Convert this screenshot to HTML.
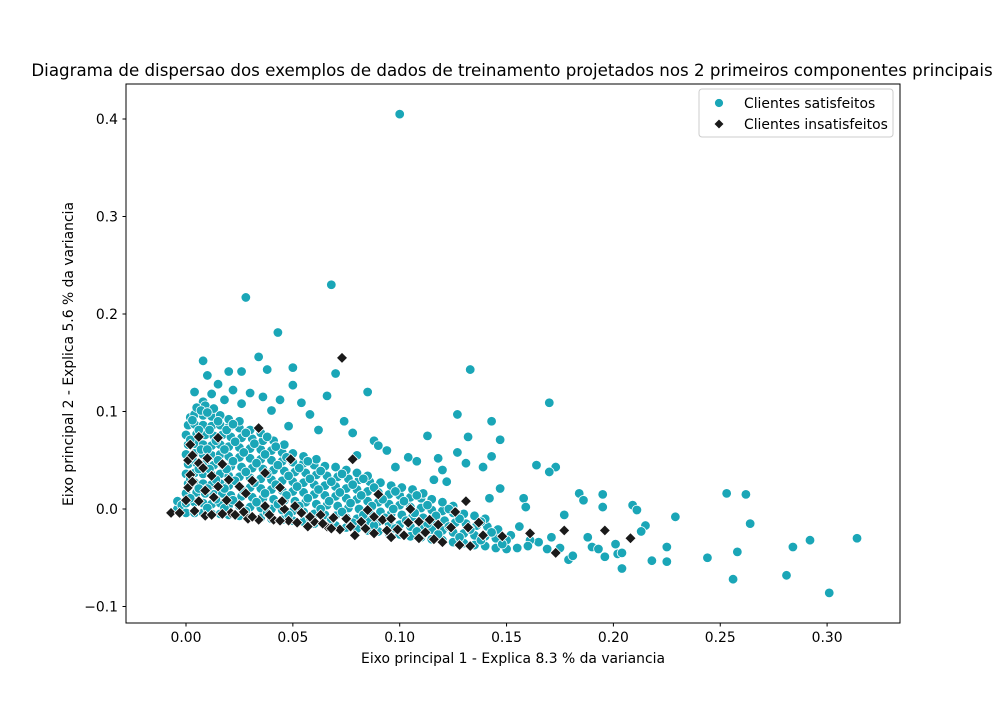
<!DOCTYPE html>
<html><head><meta charset="utf-8"><style>
body{margin:0;background:#fff;width:1000px;height:700px;overflow:hidden}
svg{font-family:"DejaVu Sans","Liberation Sans",sans-serif}
</style></head><body>
<svg id="chart" width="1000" height="700" viewBox="0 0 1000 700">
<text x="512" y="76" font-size="16.67" text-anchor="middle">Diagrama de dispersao dos exemplos de dados de treinamento projetados nos 2 primeiros componentes principais</text>
<g id="grid-axes"></g>
<g id="marks"></g>
<rect x="126" y="84" width="774" height="539" fill="none" stroke="#000" stroke-width="1"/>
<text x="513" y="663" font-size="13.9" text-anchor="middle">Eixo principal 1 - Explica 8.3 % da variancia</text>
<text transform="translate(73,354) rotate(-90)" font-size="13.9" text-anchor="middle">Eixo principal 2 - Explica 5.6 % da variancia</text>
<g>
<rect x="699" y="89" width="194" height="48" rx="3" fill="#fff" stroke="#ccc"/>
<circle cx="719" cy="103" r="4.5" fill="#1aa6b7" stroke="#fff" stroke-width="0.8"/>
<text x="744" y="108" font-size="13.9">Clientes satisfeitos</text>
<path d="M719,119 l5,5 l-5,5 l-5,-5z" fill="#1a1a1a" stroke="#fff" stroke-width="0.8"/>
<text x="744" y="129" font-size="13.9">Clientes insatisfeitos</text>
</g>
</svg>
<script>
const xTicks=[0,0.05,0.10,0.15,0.20,0.25,0.30];
const xTickLabels=["0.00","0.05","0.10","0.15","0.20","0.25","0.30"];
const yTicks=[-0.1,0,0.1,0.2,0.3,0.4];
const yTickLabels=["\u22120.1","0.0","0.1","0.2","0.3","0.4"];
const satisfiedPoints=[
[0.100,0.405],[0.028,0.217],[0.068,0.230],[0.043,0.181],[0.008,0.152],[0.034,0.156],[0.133,0.143],[0.050,0.145],[0.020,0.141],[0.026,0.141],[0.038,0.143],[0.070,0.139],[0.050,0.127],[0.085,0.120],[0.066,0.116],[0.170,0.109],[0.054,0.109],[0.074,0.090],[0.127,0.097],[0.143,0.090],[0.113,0.075],[0.132,0.074],[0.147,0.071],[0.088,0.070],[0.090,0.065],[0.127,0.058],[0.104,0.053],[0.164,0.045],[0.173,0.043],[0.139,0.043],[0.170,0.038],[0.143,0.054],[0.120,0.040],[0.131,0.047],[0.184,0.016],[0.195,0.015],[0.186,0.009],[0.195,0.002],[0.209,0.004],[0.211,-0.001],[0.229,-0.008],[0.253,0.016],[0.262,0.015],[0.264,-0.015],[0.215,-0.017],[0.213,-0.023],[0.177,-0.006],[0.188,-0.029],[0.190,-0.039],[0.193,-0.041],[0.196,-0.049],[0.201,-0.036],[0.202,-0.046],[0.204,-0.045],[0.204,-0.061],[0.218,-0.053],[0.225,-0.039],[0.225,-0.054],[0.244,-0.050],[0.258,-0.044],[0.256,-0.072],[0.281,-0.068],[0.284,-0.039],[0.292,-0.032],[0.314,-0.030],[0.301,-0.086],[0.179,-0.052],[0.181,-0.048],[0.175,-0.040],[0.169,-0.041],[0.165,-0.034],[0.156,-0.018],[0.158,0.011],[0.159,0.002],[0.147,0.021],[0.142,0.011],[0.146,-0.022],[0.152,-0.027],[0.161,-0.032],[0.171,-0.029],
[0.010,0.137],[0.015,0.128],[0.004,0.120],[0.012,0.118],[0.022,0.122],[0.030,0.119],[0.036,0.115],[0.018,0.112],[0.044,0.112],[0.008,0.110],[0.026,0.108],[0.040,0.101],[0.058,0.097],[0.062,0.081],[0.078,0.078],[0.048,0.085],[0.098,0.043],[0.108,0.049],[0.116,0.030],[0.122,0.028],[0.118,0.052],[0.094,0.060],[0.080,0.055],
[-0.004,0.000],[-0.004,0.008],[-0.002,0.004],
[0.000,-0.004],[0.000,0.006],[0.000,0.016],[0.001,0.026],[0.000,0.036],[0.001,0.046],[0.000,0.056],[0.001,0.066],[0.000,0.076],[0.001,0.086],[0.002,0.094],
[0.004,-0.004],[0.004,0.007],[0.005,0.017],[0.004,0.027],[0.004,0.037],[0.005,0.047],[0.004,0.057],[0.004,0.067],[0.005,0.077],[0.004,0.087],[0.004,0.097],[0.005,0.104],
[0.008,-0.004],[0.008,0.006],[0.009,0.016],[0.008,0.026],[0.008,0.036],[0.009,0.046],[0.008,0.056],[0.008,0.066],[0.009,0.076],[0.008,0.086],[0.008,0.096],[0.009,0.106],
[0.012,-0.005],[0.012,0.005],[0.013,0.015],[0.012,0.025],[0.012,0.035],[0.013,0.045],[0.012,0.055],[0.012,0.065],[0.013,0.075],[0.012,0.085],[0.012,0.095],[0.013,0.103],
[0.016,-0.005],[0.016,0.006],[0.017,0.016],[0.016,0.026],[0.016,0.036],[0.017,0.046],[0.016,0.056],[0.016,0.066],[0.017,0.076],[0.016,0.086],[0.016,0.096],
[0.020,-0.006],[0.020,0.004],[0.021,0.014],[0.020,0.024],[0.020,0.034],[0.021,0.044],[0.020,0.054],[0.020,0.064],[0.021,0.074],[0.020,0.084],[0.020,0.092],
[0.025,-0.007],[0.025,0.003],[0.026,0.013],[0.025,0.023],[0.025,0.033],[0.026,0.043],[0.025,0.053],[0.025,0.063],[0.026,0.073],[0.025,0.083],[0.025,0.090],
[0.030,-0.008],[0.030,0.002],[0.031,0.012],[0.030,0.022],[0.030,0.032],[0.031,0.042],[0.030,0.052],[0.030,0.062],[0.031,0.072],[0.030,0.081],
[0.035,-0.009],[0.035,0.001],[0.036,0.011],[0.035,0.021],[0.035,0.031],[0.036,0.041],[0.035,0.051],[0.035,0.061],[0.036,0.070],[0.035,0.078],
[0.040,-0.010],[0.040,0.000],[0.041,0.010],[0.040,0.020],[0.040,0.030],[0.041,0.040],[0.040,0.050],[0.040,0.060],[0.041,0.070],
[0.045,-0.011],[0.045,-0.001],[0.046,0.009],[0.045,0.019],[0.045,0.029],[0.046,0.039],[0.045,0.049],[0.045,0.058],[0.046,0.066],
[0.050,-0.012],[0.050,-0.002],[0.051,0.008],[0.050,0.018],[0.050,0.028],[0.051,0.038],[0.050,0.048],[0.050,0.057],
[0.055,-0.013],[0.055,-0.003],[0.056,0.007],[0.055,0.017],[0.055,0.027],[0.056,0.037],[0.055,0.047],[0.055,0.054],
[0.060,-0.015],[0.060,-0.005],[0.061,0.005],[0.060,0.015],[0.060,0.025],[0.061,0.035],[0.060,0.045],[0.061,0.051],
[0.065,-0.016],[0.065,-0.006],[0.066,0.004],[0.065,0.014],[0.065,0.024],[0.066,0.034],[0.065,0.044],
[0.070,-0.017],[0.070,-0.007],[0.071,0.003],[0.070,0.013],[0.070,0.023],[0.071,0.033],[0.070,0.043],
[0.075,-0.019],[0.075,-0.009],[0.076,0.001],[0.075,0.011],[0.075,0.021],[0.076,0.031],[0.075,0.040],
[0.080,-0.020],[0.080,-0.010],[0.081,0.000],[0.080,0.010],[0.080,0.020],[0.081,0.030],[0.080,0.037],
[0.085,-0.022],[0.085,-0.012],[0.086,-0.002],[0.085,0.008],[0.085,0.018],[0.086,0.028],[0.085,0.034],
[0.090,-0.023],[0.090,-0.013],[0.091,-0.003],[0.090,0.007],[0.090,0.017],[0.091,0.027],
[0.095,-0.025],[0.095,-0.015],[0.096,-0.005],[0.095,0.005],[0.095,0.015],[0.096,0.024],
[0.100,-0.026],[0.100,-0.016],[0.101,-0.006],[0.100,0.004],[0.100,0.014],[0.101,0.022],
[0.105,-0.028],[0.105,-0.018],[0.106,-0.008],[0.105,0.002],[0.105,0.012],[0.106,0.020],
[0.110,-0.029],[0.110,-0.019],[0.111,-0.009],[0.110,0.001],[0.110,0.011],[0.111,0.016],
[0.115,-0.031],[0.115,-0.021],[0.116,-0.011],[0.115,-0.001],[0.115,0.010],
[0.120,-0.032],[0.120,-0.022],[0.121,-0.012],[0.120,-0.002],[0.120,0.007],
[0.125,-0.034],[0.125,-0.024],[0.126,-0.014],[0.125,-0.004],[0.125,0.003],
[0.130,-0.035],[0.130,-0.025],[0.131,-0.015],[0.130,-0.005],
[0.135,-0.037],[0.135,-0.027],[0.136,-0.017],[0.135,-0.007],
[0.140,-0.038],[0.140,-0.028],[0.141,-0.018],[0.140,-0.010],
[0.145,-0.040],[0.145,-0.030],[0.146,-0.021],
[0.150,-0.041],[0.150,-0.032],[0.155,-0.040],[0.160,-0.038],
[0.002,0.011],[0.002,0.031],[0.003,0.051],[0.002,0.071],[0.003,0.091],[0.006,0.021],[0.006,0.041],[0.007,0.061],[0.006,0.081],[0.007,0.101],
[0.010,0.001],[0.010,0.021],[0.011,0.041],[0.010,0.061],[0.011,0.081],[0.010,0.099],[0.014,0.010],[0.014,0.030],[0.015,0.050],[0.014,0.070],[0.015,0.090],
[0.018,0.001],[0.018,0.021],[0.019,0.041],[0.018,0.061],[0.019,0.081],[0.022,0.009],[0.023,0.029],[0.022,0.049],[0.023,0.069],[0.022,0.087],
[0.028,-0.002],[0.027,0.018],[0.028,0.038],[0.027,0.058],[0.028,0.078],[0.033,0.007],[0.032,0.027],[0.033,0.047],[0.032,0.067],
[0.038,-0.004],[0.037,0.016],[0.038,0.036],[0.037,0.056],[0.038,0.074],[0.043,0.005],[0.042,0.025],[0.043,0.045],[0.042,0.064],
[0.048,-0.006],[0.047,0.014],[0.048,0.034],[0.047,0.053],[0.053,0.003],[0.052,0.023],[0.053,0.042],[0.058,-0.009],[0.057,0.011],[0.058,0.031],[0.057,0.049],
[0.063,0.000],[0.062,0.020],[0.063,0.039],[0.068,-0.011],[0.067,0.008],[0.068,0.028],[0.073,-0.003],[0.072,0.017],[0.073,0.036],
[0.078,-0.014],[0.077,0.006],[0.078,0.025],[0.083,-0.006],[0.082,0.014],[0.083,0.031],[0.088,-0.017],[0.087,0.003],[0.088,0.022],
[0.093,-0.009],[0.092,0.010],[0.098,-0.020],[0.097,0.000],[0.098,0.018],[0.103,-0.012],[0.102,0.008],[0.108,-0.023],[0.107,-0.004],[0.108,0.014],
[0.113,-0.015],[0.113,0.004],[0.118,-0.026],[0.117,-0.007],[0.123,-0.018],[0.123,0.000],[0.128,-0.029],[0.128,-0.010],[0.133,-0.021],[0.138,-0.032],[0.138,-0.013],[0.143,-0.024],[0.148,-0.036]
];
const unsatisfiedPoints=[
[-0.007,-0.004],[-0.003,-0.004],[0.000,0.009],[0.001,0.022],[0.002,0.035],[0.001,0.050],[0.003,0.055],[0.002,0.066],[0.006,0.074],[0.006,0.047],[0.008,0.042],[0.009,0.019],[0.009,-0.007],[0.012,0.034],[0.015,0.073],[0.017,0.046],[0.015,0.023],[0.019,0.009],[0.021,-0.004],[0.025,0.023],[0.028,0.016],[0.025,0.004],[0.029,-0.010],[0.031,0.029],[0.034,0.083],[0.037,0.037],[0.034,-0.011],[0.037,0.003],[0.041,-0.011],[0.044,0.022],[0.049,0.051],[0.048,-0.012],[0.051,0.003],[0.054,-0.004],[0.057,-0.018],[0.060,-0.013],[0.063,-0.006],[0.066,-0.018],[0.069,-0.009],[0.073,0.155],[0.072,-0.021],[0.075,-0.010],[0.079,-0.027],[0.078,0.051],[0.082,-0.013],[0.085,-0.001],[0.088,-0.025],[0.090,0.015],[0.092,-0.011],[0.096,-0.029],[0.099,-0.021],[0.105,0.000],[0.109,-0.013],[0.109,-0.030],[0.114,-0.011],[0.118,-0.016],[0.124,-0.019],[0.128,-0.037],[0.131,0.008],[0.132,-0.019],[0.133,-0.038],[0.137,-0.014],[0.139,-0.027],[0.148,-0.028],[0.161,-0.025],[0.173,-0.045],[0.177,-0.022],[0.196,-0.022],[0.208,-0.030],[0.126,-0.003],[0.120,-0.034],
[0.004,-0.002],[0.006,0.008],[0.012,-0.006],[0.013,0.012],[0.017,-0.005],[0.023,-0.006],[0.027,-0.003],[0.031,-0.008],[0.039,-0.006],[0.044,-0.012],[0.046,0.000],[0.052,-0.014],[0.058,-0.008],[0.064,-0.015],[0.068,-0.020],[0.077,-0.018],[0.084,-0.020],[0.094,-0.022],[0.102,-0.027],[0.112,-0.024],[0.116,-0.031],[0.104,-0.014],[0.096,-0.010],[0.088,-0.008],[0.003,0.028],[0.010,0.052],[0.020,0.030],[0.045,0.008]
];
const X0=186,XS=2137,Y0=509,YS=975;
function sx(v){return X0+v*XS;}
function sy(v){return Y0-v*YS;}
const NS="http://www.w3.org/2000/svg";
const ax=document.getElementById('grid-axes');
const mk=document.getElementById('marks');
xTicks.forEach((t,i)=>{
 const l=document.createElementNS(NS,'line');
 
 
 l.setAttribute('x1',sx(t));l.setAttribute('x2',sx(t));l.setAttribute('y1',623);l.setAttribute('y2',626.5);l.setAttribute('stroke','#000');
 ax.appendChild(l);
 const tx=document.createElementNS(NS,'text');
 
 
 tx.setAttribute('x',sx(t));tx.setAttribute('y',642);tx.setAttribute('font-size','13.9');tx.setAttribute('text-anchor','middle');
 tx.textContent=xTickLabels[i];ax.appendChild(tx);
});
yTicks.forEach((t,i)=>{
 const l=document.createElementNS(NS,'line');
 
 
 l.setAttribute('x1',122.5);l.setAttribute('x2',126);l.setAttribute('y1',sy(t));l.setAttribute('y2',sy(t));l.setAttribute('stroke','#000');
 ax.appendChild(l);
 const tx=document.createElementNS(NS,'text');
 
 
 tx.setAttribute('x',118);tx.setAttribute('y',sy(t)+5);tx.setAttribute('font-size','13.9');tx.setAttribute('text-anchor','end');
 tx.textContent=yTickLabels[i];ax.appendChild(tx);
});
satisfiedPoints.forEach(p=>{
 const c=document.createElementNS(NS,'circle');
 
 
 c.setAttribute('cx',sx(p[0]));c.setAttribute('cy',sy(p[1]));c.setAttribute('r',4.8);
 c.setAttribute('fill','#1aa6b7');c.setAttribute('stroke','#fff');c.setAttribute('stroke-width','0.8');
 mk.appendChild(c);
});
unsatisfiedPoints.forEach(p=>{
 const x=sx(p[0]),y=sy(p[1]);
 const d=document.createElementNS(NS,'path');
 
 
 d.setAttribute('d',`M${x},${y-5.5}L${x+5.5},${y}L${x},${y+5.5}L${x-5.5},${y}Z`);
 d.setAttribute('fill','#1a1a1a');d.setAttribute('stroke','#fff');d.setAttribute('stroke-width','0.8');
 mk.appendChild(d);
});
</script>
</body></html>
